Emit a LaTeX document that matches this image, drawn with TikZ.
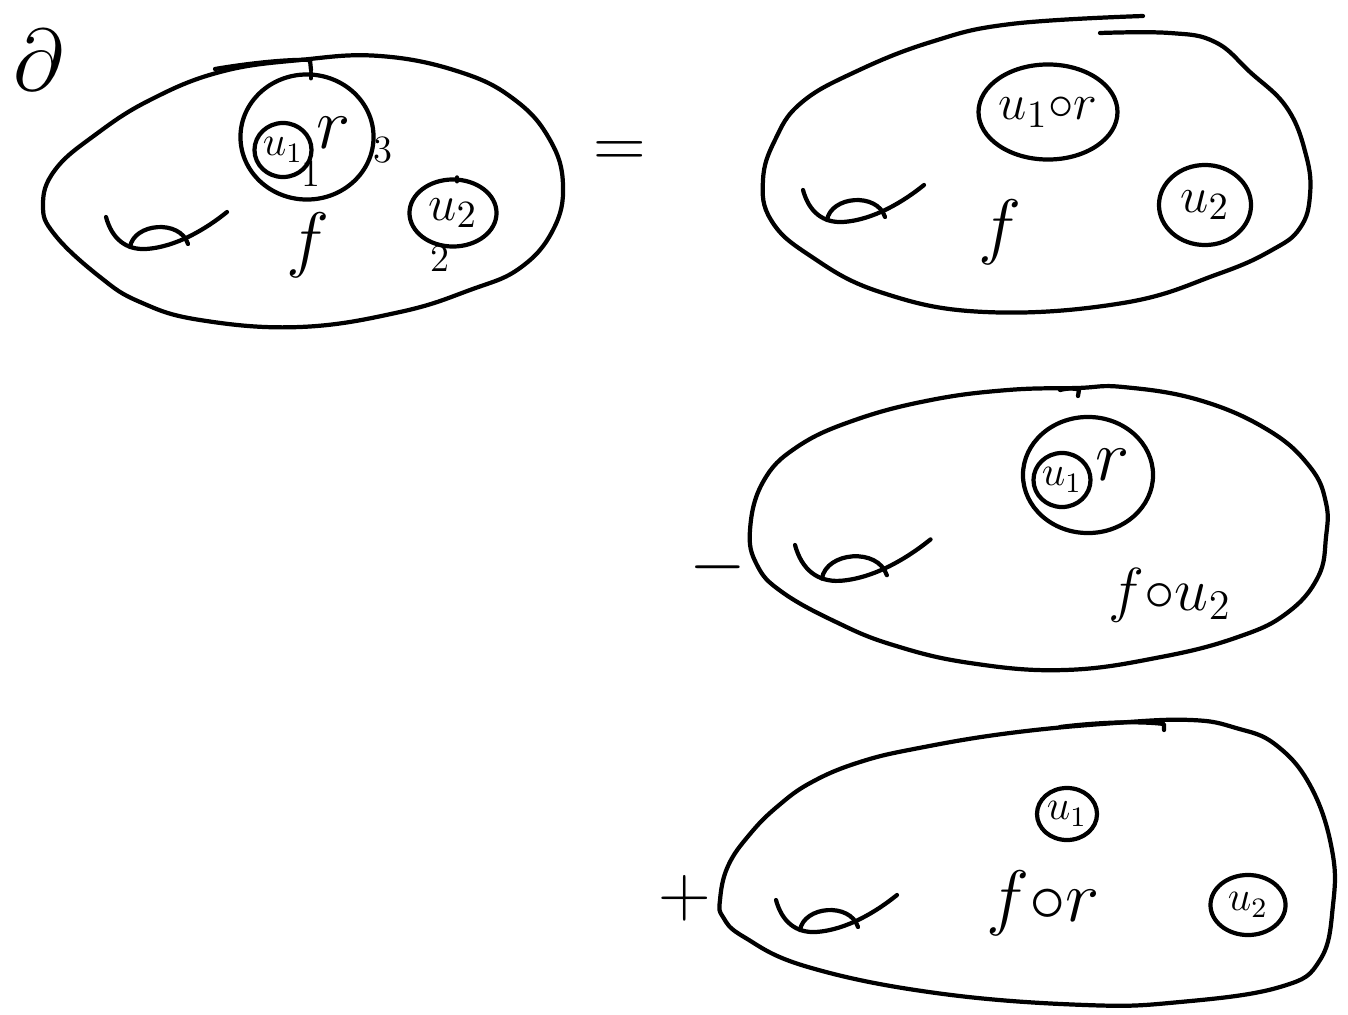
\documentclass[tikz,border=0pt]{standalone}
\usetikzlibrary{shapes.geometric}

\begin{document}
\begin{tikzpicture}[x=0.01cm, y=-0.01cm,
    stroke/.style = {line width=1.2pt, line cap=round, line join=round},
    disc/.style = {draw, ellipse, line width=1.2pt, inner sep=0pt, font=\fontsize{15}{18}\selectfont},
    dot/.style = {disc, font=\fontsize{12}{14}\selectfont},
    lbl/.style = {inner sep=0pt, font=\fontsize{20}{24}\selectfont},
    tag/.style = {inner sep=0pt, font=\fontsize{11}{13}\selectfont},
    handle/.pic = {\draw[stroke] (0,0) .. controls (6,22) and (20,33) .. (40,32) .. controls (70,30) and (100,12) .. (121,-5);
                   \draw[stroke] (24,30) .. controls (28,6) and (74,2) .. (82,27);}]
    \useasboundingbox (0,0) rectangle (1348,1015);

    % left hand side
    \node[inner sep=0pt, font=\fontsize{30}{34}\selectfont](d) at (38,60){$\partial$};
    \draw[stroke] plot[smooth cycle, tension=0.7] coordinates {(43,205) (55,235) (100,277) (140,302) (200,320) (300,327) (400,312) (470,290) (520,268) (553,230) (563,185) (550,140) (515,100) (460,72) (380,56) (300,60) (220,72) (150,100) (95,135) (55,170)};
    \draw[stroke] (215,69) .. controls (250,63) and (290,59) .. (310,60) -- (311,70);
    \node[disc, minimum width=1.33cm, minimum height=1.25cm](r1) at (307,137){};
    \draw[stroke] (r1.north) ++(4,0) -- ++(0,6);
    \node[dot, minimum width=0.57cm, minimum height=0.54cm](u11) at (283,150){$u_1$};
    \node[lbl](rr1) at (334,133){$r$};
    \node[tag](t1) at (311,174){1};
    \node[tag](t3) at (383,150){3};
    \node[disc, minimum width=0.87cm, minimum height=0.67cm](u21) at (453,213){$u_2$};
    \draw[stroke] (u21.north) ++(4,0) -- ++(0,4);
    \node[tag](t2) at (440,259){2};
    \node[lbl](f1) at (308,245){$f$};
    \pic at (106,217) {handle};

    \node[lbl](eq) at (620,155){$=$};

    % first term
    \draw[stroke] plot[smooth, tension=0.7] coordinates {(1100,33) (1170,33) (1215,42) (1250,72) (1287,108) (1306,155) (1310,195) (1300,228) (1272,250) (1218,274) (1123,303) (985,312) (880,292) (809,255) (771,220) (763,180) (775,140) (801,103) (855,72) (931,42) (1011,24) (1143,16)};
    \node[disc, minimum width=1.18cm, minimum height=0.95cm](u1r) at (1048,112){$u_1{\circ}r$};
    \node[disc, minimum width=0.92cm, minimum height=0.80cm](u22) at (1205,205){$u_2$};
    \node[lbl](f2) at (1000,232){$f$};
    \pic at (803,190) {handle};

    % second term
    \node[lbl](minus) at (718,567){$-$};
    \draw[stroke] plot[smooth cycle, tension=0.7] coordinates {(750,530) (763,482) (797,447) (855,420) (931,400) (1008,390) (1077,388) (1123,387) (1199,400) (1268,430) (1310,467) (1326,503) (1326,537) (1318,577) (1287,613) (1238,637) (1161,657) (1065,670) (970,663) (893,645) (836,622) (782,592) (757,565)};
    \draw[stroke] (1060,390) .. controls (1068,388) and (1076,388) .. (1079,390) -- (1078,396);
    \node[disc, minimum width=1.30cm, minimum height=1.16cm](r3) at (1088,475){};
    \node[dot, minimum width=0.57cm, minimum height=0.54cm](u13) at (1062,480){$u_1$};
    \node[lbl](rr3) at (1113,465){$r$};
    \node[inner sep=0pt, font=\fontsize{17}{20}\selectfont](fu2) at (1170,595){$f{\circ}u_2$};
    \pic[scale=1.12] at (795,545) {handle};

    % third term
    \node[lbl](plus) at (685,898){$+$};
    \draw[stroke] plot[smooth cycle, tension=0.7] coordinates {(720,900) (728,866) (750,834) (778,806) (812,782) (860,762) (919,748) (1010,733) (1115,723) (1191,720) (1236,728) (1276,745) (1311,787) (1332,850) (1333,905) (1320,960) (1280,987) (1180,1002) (1085,1005) (936,993) (808,967) (744,937) (723,917)};
    \draw[stroke] (1060,727) .. controls (1100,722) and (1140,721) .. (1164,724) -- (1164,730);
    \node[dot, minimum width=0.60cm, minimum height=0.52cm](u14) at (1067,814){$u_1$};
    \node[dot, minimum width=0.75cm, minimum height=0.60cm](u24) at (1248,905){$u_2$};
    \node[lbl](fr) at (1043,903){$f{\circ}r$};
    \pic at (776,900) {handle};
\end{tikzpicture}
\end{document}
